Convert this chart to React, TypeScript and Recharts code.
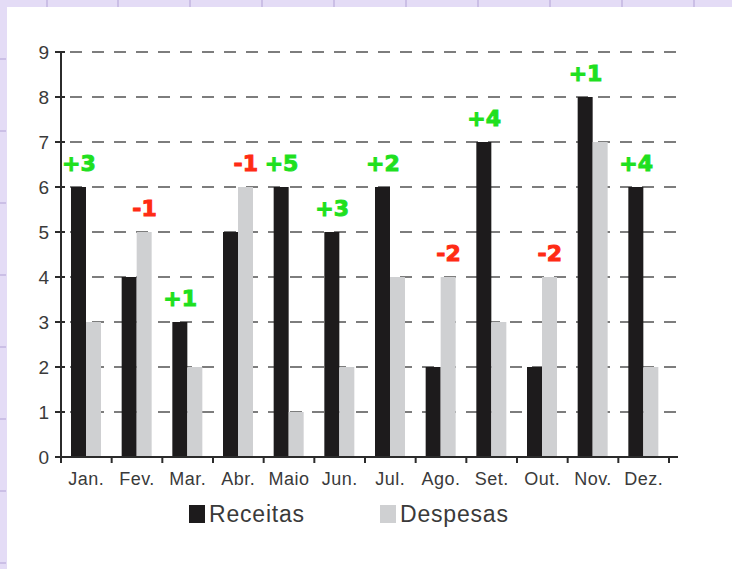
import React from "react";
import { ComposedChart, Bar, Line, LabelList, XAxis, YAxis, CartesianGrid, Legend } from "recharts";

const meses = ["Jan.", "Fev.", "Mar.", "Abr.", "Maio", "Jun.", "Jul.", "Ago.", "Set.", "Out.", "Nov.", "Dez."];
const receitas = [6, 4, 3, 5, 6, 5, 6, 2, 7, 2, 8, 6];
const despesas = [3, 5, 2, 6, 1, 2, 4, 4, 3, 4, 7, 2];
// anotações à mão sobre cada mês
const saldos = ["+3", "-1", "+1", "-1", "+5", "+3", "+2", "-2", "+4", "-2", "+1", "+4"];
const yTicks = [0, 1, 2, 3, 4, 5, 6, 7, 8, 9];

const W = 732;
const H = 569;
const PLOT_LEFT = 61;
const TICK_END = 669;
const AXIS_END = 678;
const PLOT_TOP = 52;
const PLOT_BOTTOM = 457;
const YAXIS_W = 40;
const XAXIS_H = 30;
const BAND = (TICK_END - PLOT_LEFT) / meses.length;

const FONT = "'Liberation Sans', Arial, sans-serif";
const TEXT = "#3a3a3a";
const AXIS = "#2b2b2b";
const BLACK = "#1d1b1c";
const GRAY = "#cfd0d2";

const data = meses.map((m, i) => ({
  mes: m,
  receitas: receitas[i],
  despesas: despesas[i],
  topo: Math.max(receitas[i], despesas[i]),
  saldo: saldos[i],
}));

const XTick = (p: any) => {
  const { x, y, payload, index } = p;
  const left = x - BAND / 2;
  return (
    <g>
      <line x1={left} y1={y} x2={left} y2={y + 6} stroke={AXIS} strokeWidth={2} />
      {index === meses.length - 1 && (
        <line x1={x + BAND / 2} y1={y} x2={x + BAND / 2} y2={y + 6} stroke={AXIS} strokeWidth={2} />
      )}
      <text x={x} y={y + 28} textAnchor="middle" fill={TEXT} fontFamily={FONT} fontSize={18} letterSpacing={0.5}>
        {payload.value}
      </text>
    </g>
  );
};

const YTick = (p: any) => {
  const { y, payload } = p;
  return (
    <g>
      <line x1={PLOT_LEFT - 6} y1={y} x2={PLOT_LEFT + 4} y2={y} stroke={AXIS} strokeWidth={2} />
      <text x={PLOT_LEFT - 12} y={y + 7} textAnchor="end" fill={TEXT} fontFamily={FONT} fontSize={19}>
        {payload.value}
      </text>
    </g>
  );
};

const gridLine = (p: any) => (
  <line
    key={p.key}
    x1={p.x1}
    y1={p.y1}
    x2={p.x2}
    y2={p.y2}
    stroke="#7d7d7d"
    strokeWidth={2}
    strokeDasharray="12 10"
    strokeDashoffset={13}
  />
);

const renderSaldo = (p: any) => {
  const { x, y, value, index } = p;
  const side = receitas[index] >= despesas[index] ? -7.5 : 7.5;
  const color = String(value).startsWith("+") ? "#1fe01f" : "#ff2b14";
  return (
    <text
      x={x + side}
      y={y - 16}
      textAnchor="middle"
      fill={color}
      stroke={color}
      strokeWidth={1}
      fontFamily="'DejaVu Sans', sans-serif"
      fontWeight="bold"
      fontSize={22}
    >
      {value}
    </text>
  );
};

const legendItems = [
  { nome: "Receitas", cor: BLACK, x: 189 },
  { nome: "Despesas", cor: GRAY, x: 380 },
];

const renderLegend = () => (
  <div style={{ position: "relative", height: 24, fontFamily: FONT, fontSize: 23, color: TEXT, lineHeight: "24px" }}>
    {legendItems.map((it) => (
      <React.Fragment key={it.nome}>
        <div style={{ position: "absolute", left: it.x, top: 3, width: 16, height: 18, background: it.cor }} />
        <div style={{ position: "absolute", left: it.x + 20, top: 0, letterSpacing: 0.8, whiteSpace: "nowrap" }}>{it.nome}</div>
      </React.Fragment>
    ))}
  </div>
);

const paperTicksX = [46, 117, 189, 261, 333, 405, 477, 549, 621, 693];
const paperTicksY = [58, 130, 202, 274, 346, 418, 490, 562];

export default function App() {
  return (
    <div style={{ position: "absolute", left: 0, top: 0, width: W, height: H, background: "#fff", overflow: "hidden" }}>
      <div style={{ position: "absolute", left: 0, top: 0, width: W, height: 7, background: "#e4dcf6" }} />
      <div style={{ position: "absolute", left: 0, top: 0, width: 7, height: H, background: "#e4dcf6" }} />
      {paperTicksX.map((x) => (
        <div key={x} style={{ position: "absolute", left: x, top: 0, width: 2, height: 7, background: "#cbbfe6" }} />
      ))}
      {paperTicksY.map((y) => (
        <div key={y} style={{ position: "absolute", left: 0, top: y, width: 6, height: 2, background: "#cbbfe6" }} />
      ))}
      <ComposedChart
        width={W}
        height={H}
        data={data}
        barGap={0}
        barSize={15}
        margin={{ top: PLOT_TOP, left: PLOT_LEFT - YAXIS_W, right: W - AXIS_END, bottom: H - PLOT_BOTTOM - XAXIS_H }}
        style={{ position: "absolute", left: 0, top: 0 }}
      >
        <CartesianGrid vertical={false} horizontal={gridLine} />
        <XAxis
          dataKey="mes"
          height={XAXIS_H}
          interval={0}
          padding={{ left: 0, right: AXIS_END - TICK_END }}
          axisLine={{ stroke: AXIS, strokeWidth: 2 }}
          tickLine={false}
          tickSize={0}
          tickMargin={0}
          tick={XTick}
        />
        <YAxis
          width={YAXIS_W}
          domain={[0, 9]}
          ticks={yTicks}
          interval={0}
          axisLine={{ stroke: AXIS, strokeWidth: 2 }}
          tickLine={false}
          tickSize={0}
          tickMargin={0}
          tick={YTick}
        />
        <Bar dataKey="receitas" name="Receitas" fill={BLACK} isAnimationActive={false} />
        <Bar dataKey="despesas" name="Despesas" fill={GRAY} isAnimationActive={false} />
        <Line dataKey="topo" stroke="none" dot={false} activeDot={false} isAnimationActive={false} legendType="none">
          <LabelList dataKey="saldo" content={renderSaldo} />
        </Line>
        <Legend
          layout="horizontal"
          verticalAlign="middle"
          align="center"
          content={renderLegend}
          wrapperStyle={{ position: "absolute", left: 0, top: 502, width: W, height: 24 }}
        />
      </ComposedChart>
    </div>
  );
}
